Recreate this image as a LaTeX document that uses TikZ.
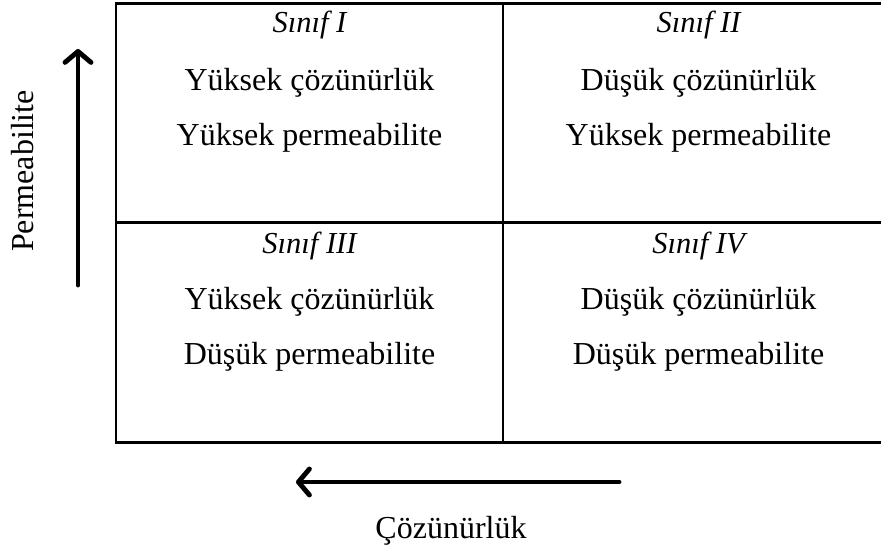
\documentclass[tikz,border=0pt]{standalone}
\usepackage{fontspec}
\setmainfont{Liberation Serif}
\usetikzlibrary{arrows.meta}

\tikzset{
  gridline/.style={line width=2.6pt, black},
  cellhead/.style={anchor=base, font=\fontsize{30.5}{36}\selectfont\itshape, inner sep=0pt},
  celltext/.style={anchor=base, font=\fontsize{32}{38}\selectfont, inner sep=0pt},
  axislabel/.style={anchor=base, font=\fontsize{32}{38}\selectfont, inner sep=0pt},
  axisarrow/.style={line width=4.8pt, line cap=round,
    -{Straight Barb[length=11pt, width=26pt, line width=4.8pt, round]}},
  arrowshadow/.style={axisarrow, draw=black, opacity=0.22}
}

\begin{document}
\begin{tikzpicture}[x=1pt, y=-1pt]
  \useasboundingbox (0,0) rectangle (881,551);

  % four-cell classification grid
  \draw[gridline] (116,3.5) rectangle (894,442.5);
  \draw[gridline] (503,3.5) -- (503,442.5);
  \draw[gridline] (116,222.5) -- (894,222.5);

  % cell I
  \node[cellhead] (h1) at (309.5,33) {Sınıf I};
  \node[celltext] (a1) at (309.5,90) {Yüksek çözünürlük};
  \node[celltext] (b1) at (309.5,145) {Yüksek permeabilite};
  % cell II
  \node[cellhead] (h2) at (698.5,33) {Sınıf II};
  \node[celltext] (a2) at (698.5,90) {Düşük çözünürlük};
  \node[celltext] (b2) at (698.5,145) {Yüksek permeabilite};
  % cell III
  \node[cellhead] (h3) at (309.5,253) {Sınıf III};
  \node[celltext] (a3) at (309.5,309) {Yüksek çözünürlük};
  \node[celltext] (b3) at (309.5,364) {Düşük permeabilite};
  % cell IV
  \node[cellhead] (h4) at (698.5,253) {Sınıf IV};
  \node[celltext] (a4) at (698.5,309) {Düşük çözünürlük};
  \node[celltext] (b4) at (698.5,364) {Düşük permeabilite};

  % axes
  \coordinate (pTail) at (78,285);
  \coordinate (pTip) at (78,49);
  \coordinate (cTail) at (619,482);
  \coordinate (cTip) at (296,482);

  \begin{scope}[shift={(1.5,2.5)}]
    \draw[arrowshadow] (pTail) -- (pTip);
    \draw[arrowshadow] (cTail) -- (cTip);
  \end{scope}
  \draw[axisarrow] (pTail) -- (pTip);
  \draw[axisarrow] (cTail) -- (cTip);

  \node[axislabel, rotate=90] (perm) at (33,171) {Permeabilite};
  \node[axislabel] (coz) at (451,538) {Çözünürlük};
\end{tikzpicture}
\end{document}
